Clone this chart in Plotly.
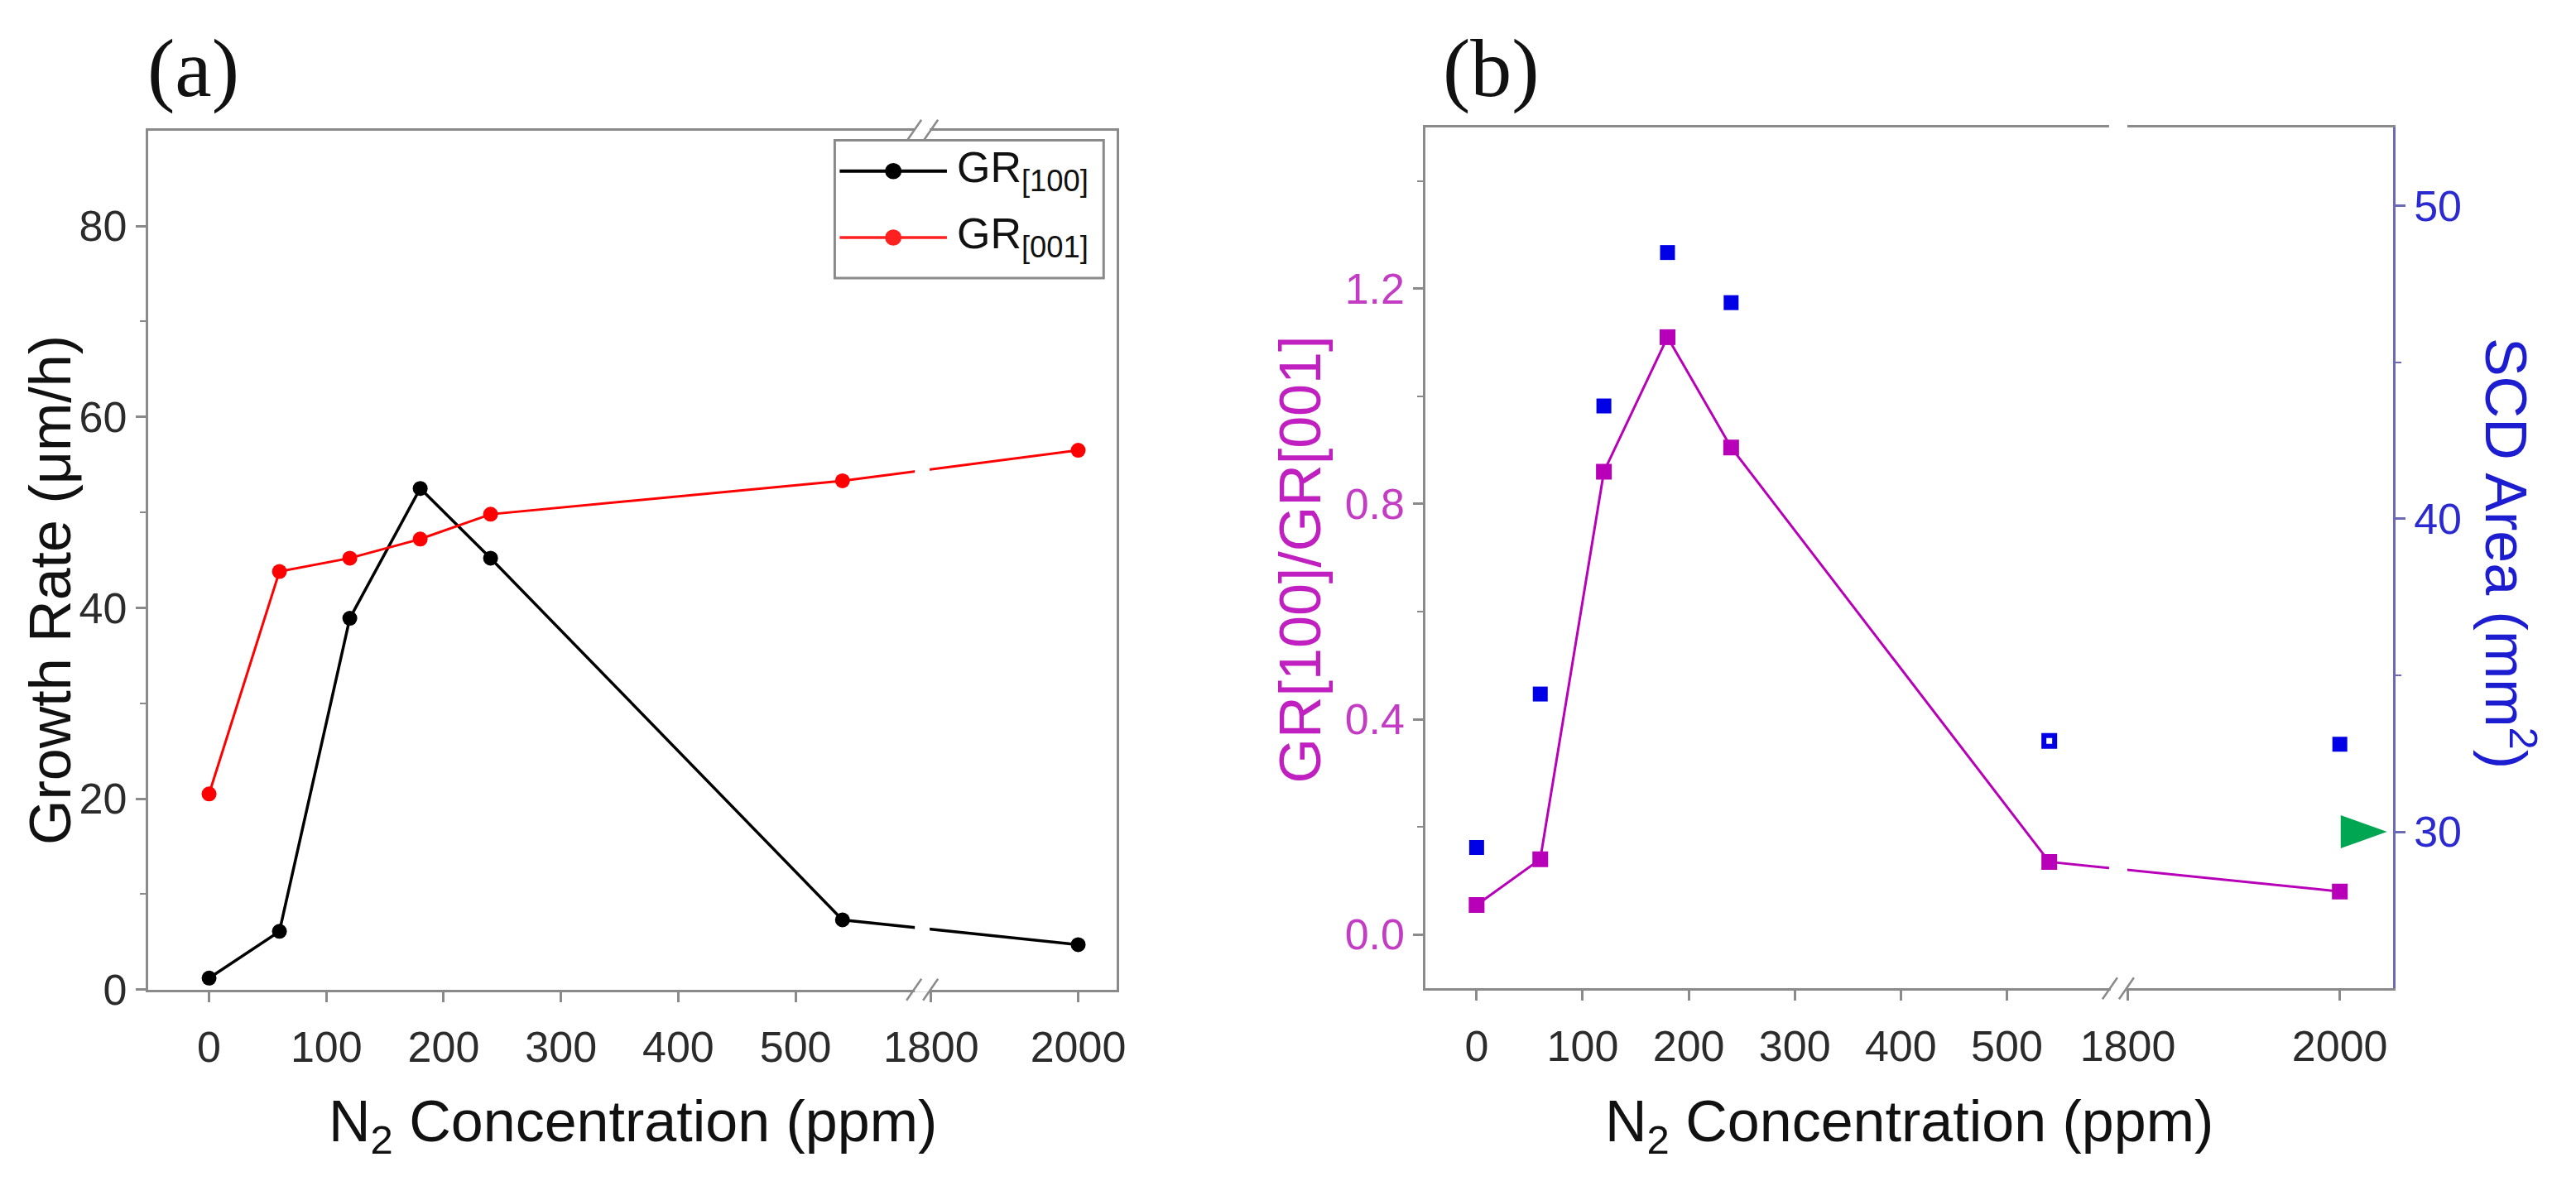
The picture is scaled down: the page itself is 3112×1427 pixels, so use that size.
import plotly.graph_objects as go

# ---------------- data ----------------
conc = [0, 60, 120, 180, 240, 540, 2000]                 # N2 concentration (ppm)
gr_100 = [1.2, 6.1, 38.9, 52.5, 45.2, 7.3, 4.7]          # GR[100] (um/h)
gr_001 = [20.5, 43.8, 45.2, 47.2, 49.8, 53.3, 56.5]      # GR[001] (um/h)
ratio = [0.055, 0.14, 0.86, 1.11, 0.905, 0.135, 0.08]    # GR[100]/GR[001]
scd_area = [29.5, 34.4, 43.6, 48.5, 46.9, 32.9, 32.8]    # SCD area (mm^2)
scd_open = [False, False, False, False, False, True, False]
seed_area = [30]                                         # reference marker on right axis

x_ticks = [0, 100, 200, 300, 400, 500, 1800, 2000]
gr_ticks = [0, 20, 40, 60, 80]
gr_minor = [10, 30, 50, 70]
ratio_ticks = [0.0, 0.4, 0.8, 1.2]
ratio_minor = [0.2, 0.6, 1.0, 1.4]
area_ticks = [30, 40, 50]
area_minor = [35, 45]

# ---------------- broken-axis scale (lower end, upper start, upper scale) ----------------
BREAK_A = (608, 1788, 0.627)
BREAK_B = (605, 1791, 1.0)


def brk(v, b):
    b1, b2, k = b
    return v if v <= b1 else b1 + (v - b2) * k


W, H = 3112, 1427


def px(x):
    return x / W


def py(y):
    return 1 - y / H


SANS = "Arial, Liberation Sans, sans-serif"
SERIF = "Times New Roman, Liberation Serif, serif"
GREY = "#8a8a8a"
MAG = "#b800b8"
MAG_TXT = "#c43cc4"
BLUE = "#0000e6"
BLUE_AX = "#6a6ab8"
BLUE_TXT = "#2a2ad0"

fig = go.Figure()

# ---- panel (a) ----
fig.add_trace(go.Scatter(
    x=[brk(v, BREAK_A) for v in conc], y=gr_100, mode="lines+markers",
    line=dict(color="#000000", width=3.5), marker=dict(size=18, color="#000000"),
    xaxis="x", yaxis="y", showlegend=False))
fig.add_trace(go.Scatter(
    x=[brk(v, BREAK_A) for v in conc], y=gr_001, mode="lines+markers",
    line=dict(color="#ff0000", width=3), marker=dict(size=18, color="#ff0000"),
    xaxis="x", yaxis="y", showlegend=False))

# ---- panel (b) ----
fig.add_trace(go.Scatter(
    x=[brk(v, BREAK_B) for v in conc], y=ratio, mode="lines+markers",
    line=dict(color=MAG, width=3), marker=dict(size=19, color=MAG, symbol="square"),
    xaxis="x2", yaxis="y2", showlegend=False))
fig.add_trace(go.Scatter(
    x=[brk(v, BREAK_B) for v in conc], y=scd_area, mode="markers",
    marker=dict(symbol="square", opacity=1,
                size=[13 if o else 18 for o in scd_open],
                color=["#ffffff" if o else BLUE for o in scd_open],
                line=dict(color=BLUE, width=[6 if o else 0 for o in scd_open])),
    xaxis="x2", yaxis="y3", showlegend=False))

tickfont = dict(family=SANS, size=52, color="#2b2b2b")
common = dict(showgrid=False, zeroline=False, showline=True, linewidth=3,
              ticks="outside", ticklen=12, tickwidth=2.5)

fig.update_layout(
    width=W, height=H, margin=dict(l=0, r=0, t=0, b=0),
    paper_bgcolor="white", plot_bgcolor="white",
    xaxis=dict(domain=[px(179.5), px(1353.5)], anchor="y",
               range=[-52, brk(2052, BREAK_A)], tickmode="array",
               tickvals=[brk(v, BREAK_A) for v in x_ticks],
               ticktext=[str(v) for v in x_ticks], mirror=True, ticklabelstandoff=10,
               linecolor=GREY, tickcolor=GREY, tickfont=tickfont, **common),
    yaxis=dict(domain=[py(1220.5), py(161)], anchor="x", range=[0, 90],
               tickmode="array", tickvals=gr_ticks, ticktext=[str(v) for v in gr_ticks],
               mirror=True, linecolor=GREY, tickcolor=GREY, tickfont=tickfont,
               minor=dict(tickmode="array", tickvals=gr_minor, ticks="outside",
                          ticklen=7, tickwidth=2, tickcolor=GREY),
               **common),
    xaxis2=dict(domain=[px(1728.5), px(2901)], anchor="y2",
                range=[-48, brk(2050, BREAK_B)], tickmode="array",
                tickvals=[brk(v, BREAK_B) for v in x_ticks],
                ticktext=[str(v) for v in x_ticks], mirror=True, ticklabelstandoff=10,
                linecolor=GREY, tickcolor=GREY, tickfont=tickfont, **common),
    yaxis2=dict(domain=[py(1219), py(157)], anchor="x2", range=[-0.1, 1.5],
                tickmode="array", tickvals=ratio_ticks,
                ticktext=[f"{v:.1f}" for v in ratio_ticks],
                linecolor=GREY, tickcolor=GREY,
                tickfont=dict(family=SANS, size=52, color=MAG_TXT),
                minor=dict(tickmode="array", tickvals=ratio_minor, ticks="outside",
                           ticklen=7, tickwidth=2, tickcolor=GREY),
                **common),
    yaxis3=dict(overlaying="y2", side="right", anchor="x2", range=[25, 52.5],
                tickmode="array", tickvals=area_ticks,
                ticktext=[str(v) for v in area_ticks],
                linecolor=BLUE_AX, tickcolor=BLUE_AX,
                tickfont=dict(family=SANS, size=52, color=BLUE_TXT),
                minor=dict(tickmode="array", tickvals=area_minor, ticks="outside",
                           ticklen=7, tickwidth=2, tickcolor=BLUE_AX),
                **common),
)

shapes = []


def gap(xref, yref, xanchor, y0, y1, half=9):
    shapes.append(dict(type="rect", xref=xref, yref=yref, xsizemode="pixel",
                       xanchor=xanchor, x0=-half, x1=half, y0=y0, y1=y1,
                       fillcolor="white", line=dict(width=0), layer="above"))


def slashes(xref, yref, xanchor, yanchor):
    shapes.append(dict(type="rect", xref=xref, yref=yref, xsizemode="pixel",
                       ysizemode="pixel", xanchor=xanchor, yanchor=yanchor,
                       x0=-9, x1=9, y0=-3, y1=3, fillcolor="white",
                       line=dict(width=0), layer="above"))
    for c in (-10, 10):
        shapes.append(dict(type="line", xref=xref, yref=yref, xsizemode="pixel",
                           ysizemode="pixel", xanchor=xanchor, yanchor=yanchor,
                           x0=c - 9, x1=c + 9, y0=-13, y1=13,
                           line=dict(color=GREY, width=2.5), layer="above"))


# panel (a) break
gap("x", "y domain", BREAK_A[0], 0.012, 0.988)
slashes("x", "y domain", BREAK_A[0], 0)
slashes("x", "y domain", BREAK_A[0], 1)
# panel (b) break
gap("x2", "y2 domain", BREAK_B[0], 0.012, 1.01, half=11)
slashes("x2", "y2 domain", BREAK_B[0], 0)

# green reference marker on the right axis of (b)
shapes.append(dict(type="path", xref="x2 domain", yref="y3", xsizemode="pixel",
                   ysizemode="pixel", xanchor=1, yanchor=seed_area[0],
                   path="M-63,-20 L-7,0 L-63,20 Z", fillcolor="#00a651",
                   line=dict(width=0), layer="above"))

# manual legend for (a)
shapes.append(dict(type="rect", xref="paper", yref="paper",
                   x0=px(1012), x1=px(1338), y0=py(343), y1=py(173),
                   fillcolor="white", line=dict(color=GREY, width=3)))
for yy, col, lw in ((211, "#000000", 4), (293, "#ff2020", 3.5)):
    shapes.append(dict(type="line", xref="paper", yref="paper",
                       x0=px(1018), x1=px(1148), y0=py(yy), y1=py(yy),
                       line=dict(color=col, width=lw)))
    shapes.append(dict(type="circle", xref="paper", yref="paper",
                       x0=px(1073), x1=px(1093), y0=py(yy + 10), y1=py(yy - 10),
                       fillcolor=col, line=dict(width=0)))

annotations = [
    dict(text="GR<sub>[100]</sub>", x=px(1158), y=py(210), xanchor="left", yanchor="middle",
         font=dict(family=SANS, size=52, color="#111111")),
    dict(text="GR<sub>[001]</sub>", x=px(1158), y=py(292), xanchor="left", yanchor="middle",
         font=dict(family=SANS, size=52, color="#111111")),
    dict(text="(a)", x=px(234), y=py(84), xanchor="center", yanchor="middle",
         font=dict(family=SERIF, size=100, color="#111111")),
    dict(text="(b)", x=px(1808), y=py(84), xanchor="center", yanchor="middle",
         font=dict(family=SERIF, size=100, color="#111111")),
    dict(text="Growth Rate (\u03bcm/h)", x=px(61), y=py(728), textangle=-90,
         xanchor="center", yanchor="middle",
         font=dict(family=SANS, size=70, color="#111111")),
    dict(text="N<sub>2</sub> Concentration (ppm)", x=px(767), y=py(1388),
         xanchor="center", yanchor="middle",
         font=dict(family=SANS, size=70, color="#111111")),
    dict(text="N<sub>2</sub> Concentration (ppm)", x=px(2315), y=py(1388),
         xanchor="center", yanchor="middle",
         font=dict(family=SANS, size=70, color="#111111")),
    dict(text="GR[100]/GR[001]", x=px(1577), y=py(690), textangle=-90,
         xanchor="center", yanchor="middle",
         font=dict(family=SANS, size=70, color="#c020c0")),
    dict(text="SCD Area (mm<sup>2</sup>)", x=px(3043), y=py(682), textangle=90,
         xanchor="center", yanchor="middle",
         font=dict(family=SANS, size=70, color="#1c1cd0")),
]
for a in annotations:
    a.update(xref="paper", yref="paper", showarrow=False)

fig.update_layout(shapes=shapes, annotations=annotations)

fig.write_html("out.html", config={"displayModeBar": False},
               post_script="document.body.style.margin='0px';document.body.style.overflow='hidden';")
